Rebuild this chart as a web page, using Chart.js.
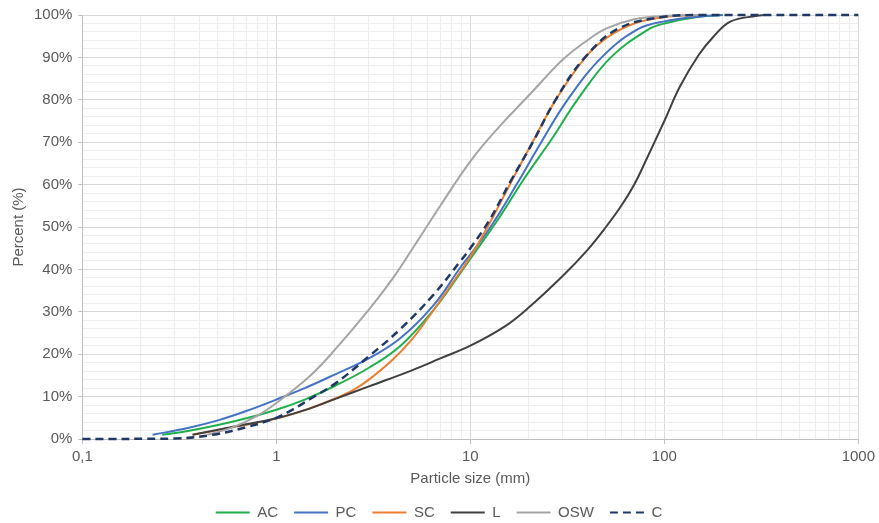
<!DOCTYPE html>
<html>
<head>
<meta charset="utf-8">
<script src="https://cdn.jsdelivr.net/npm/chart.js@4.4.1/dist/chart.umd.min.js"></script>
<style>
  html, body { margin: 0; padding: 0; background: #fff; }
  #wrap { width: 879px; height: 523px; }
</style>
</head>
<body>
<div id="wrap"><canvas id="psd"></canvas></div>
<script>
// particle size distribution curves, [size mm, passing %]
const seriesNames = ['AC', 'PC', 'SC', 'L', 'OSW', 'C'];

const acData = [[0.258, 1], [0.35, 1.9], [0.5, 3.3], [0.7, 4.9], [1, 6.9], [1.4, 9.3], [2, 12.5],
  [3, 16.8], [4.37, 22], [6.45, 30.4], [8.9, 39.2], [10, 42.5], [14, 52], [19, 61.5], [26.5, 71],
  [35.6, 80], [53, 90], [82, 96.5], [100, 98], [150, 99.6], [200, 100]];

const pcData = [[0.23, 1], [0.35, 2.6], [0.5, 4.4], [0.7, 6.6], [1, 9.3], [1.4, 12], [2, 15.2],
  [3, 19], [4.37, 23.8], [6.45, 31.5], [8.9, 40.5], [10, 43.5], [12.7, 50], [17.3, 60], [23.2, 70],
  [31.7, 80], [47.5, 90], [72.7, 96.6], [100, 98.5], [150, 99.6], [200, 100]];

const scData = [[0.37, 1], [0.6, 2.8], [1, 4.8], [1.4, 6.8], [2, 9.5], [2.5, 11.6], [3, 14], [4, 18.8],
  [5, 23.5], [6, 28.3], [8, 36.5], [10, 43], [12.6, 51], [16.2, 60.5], [21.2, 70.5], [28, 80.5],
  [40, 90.5], [52, 95], [70, 98], [100, 99.5], [150, 100]];

const lData = [[0.37, 1], [0.6, 2.9], [1, 4.9], [1.4, 6.8], [2, 9.4], [3, 12.4], [5, 16.2], [7, 19],
  [10, 22], [15, 26.5], [20, 31], [30, 38.5], [40, 44.5], [50, 50], [60, 55], [70, 60], [80, 65.5],
  [100, 75], [120, 83], [150, 90.5], [180, 95], [220, 98.5], [300, 99.8], [330, 100]];

const oswData = [[0.44, 1], [0.6, 2.8], [0.8, 5.5], [1, 8.5], [1.5, 15], [2, 21], [3, 30.5], [4, 38],
  [5, 44.7], [7, 55], [10, 65.5], [14, 73.5], [20, 81], [30, 89.5], [40, 94], [50, 96.8], [70, 99],
  [100, 99.8], [150, 100]];

const cData = [[0.1, 0], [0.3, 0.1], [0.47, 1], [0.7, 2.8], [1, 5], [1.22, 7], [1.5, 9.5], [2, 13],
  [3, 19.5], [4.37, 26], [6.45, 34], [8.9, 42], [10, 45], [12.5, 51.5], [16, 60.5], [21, 70],
  [27.5, 80], [39, 90], [58, 96.8], [100, 99.6], [150, 100], [1000, 100]];

const xTickValues = [0.1, 1, 10, 100, 1000];
const yTickValues = [0, 10, 20, 30, 40, 50, 60, 70, 80, 90, 100];

const colors = ['#1FB04C', '#4472C4', '#ED7D31', '#404040', '#A5A5A5', '#1F3864'];
const allData = [acData, pcData, scData, lData, oswData, cData];

const isMajorX = v => xTickValues.some(t => Math.abs(Math.log10(v) - Math.log10(t)) < 1e-6);

const datasets = seriesNames.map((name, i) => ({
  label: name,
  data: allData[i].map(p => ({ x: p[0], y: p[1] })),
  borderColor: colors[i],
  backgroundColor: colors[i],
  borderWidth: i === 5 ? 2.5 : 2,
  borderDash: i === 5 ? [8, 5] : [],
  pointRadius: 0,
  tension: 0.4,
  clip: false,
  order: 6 - i
}));

const font = { family: '"Liberation Sans", Arial, sans-serif', size: 15 };
const textColor = '#595959';

new Chart(document.getElementById('psd'), {
  type: 'line',
  data: { datasets },
  options: {
    responsive: true,
    maintainAspectRatio: false,
    animation: false,
    layout: { padding: { left: 5, right: 6, top: 1, bottom: -7 } },
    plugins: {
      tooltip: { enabled: false },
      legend: {
        position: 'bottom',
        labels: {
          font: font,
          color: textColor,
          usePointStyle: true,
          pointStyleWidth: 34,
          padding: 16,
          generateLabels: chart => chart.data.datasets.map((ds, i) => ({
            text: ds.label,
            fillStyle: ds.borderColor,
            strokeStyle: ds.borderColor,
            lineWidth: 2,
            lineDash: ds.borderDash,
            pointStyle: 'line',
            fontColor: textColor,
            datasetIndex: i
          }))
        }
      }
    },
    scales: {
      x: {
        type: 'logarithmic',
        min: 0.1,
        max: 1000,
        afterBuildTicks: scale => {
          const ticks = [];
          for (let d = -1; d < 3; d++) {
            for (let m = 1; m < 10; m++) ticks.push({ value: m * Math.pow(10, d) });
          }
          ticks.push({ value: 1000 });
          scale.ticks = ticks;
        },
        ticks: {
          autoSkip: false,
          maxRotation: 0,
          font: font,
          color: textColor,
          padding: 4,
          callback: v => isMajorX(v) ? String(+v.toPrecision(6)).replace('.', ',') : ''
        },
        grid: {
          color: ctx => isMajorX(ctx.tick.value) ? '#D9D9D9' : '#EDEDED',
          tickColor: ctx => isMajorX(ctx.tick.value) ? '#BFBFBF' : 'rgba(0,0,0,0)',
          tickLength: 5
        },
        border: { color: '#BFBFBF' },
        title: { display: true, text: 'Particle size (mm)', font: font, color: textColor, padding: { top: 0, bottom: 1 } }
      },
      y: {
        min: 0,
        max: 100,
        ticks: {
          stepSize: 2,
          autoSkip: false,
          font: font,
          color: textColor,
          padding: 6,
          callback: v => yTickValues.includes(v) ? v + '%' : ''
        },
        grid: {
          color: ctx => yTickValues.includes(ctx.tick.value) ? '#D9D9D9' : '#EDEDED',
          tickColor: ctx => yTickValues.includes(ctx.tick.value) ? '#BFBFBF' : 'rgba(0,0,0,0)',
          tickLength: 4
        },
        border: { color: '#BFBFBF' },
        title: { display: true, text: 'Percent (%)', font: font, color: textColor, padding: { top: 5, bottom: 0 } }
      }
    }
  }
});
</script>
</body>
</html>
